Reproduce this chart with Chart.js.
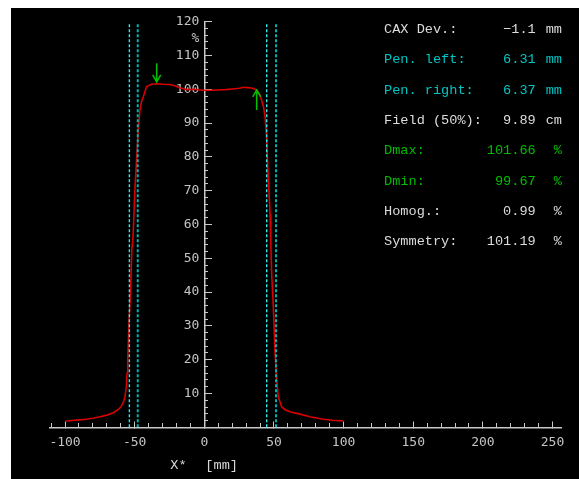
<!DOCTYPE html>
<html>
<head>
<meta charset="utf-8">
<script src="https://cdn.jsdelivr.net/npm/chart.js@4/dist/chart.umd.min.js"></script>
<style>
  html, body { margin: 0; padding: 0; background: #ffffff; width: 579px; height: 479px; overflow: hidden; }
  #panel { position: absolute; left: 11px; top: 8px; width: 568px; height: 471px; background: #000000; }
  canvas { display: block; }
</style>
</head>
<body>
<div id="panel"><canvas id="c" width="568" height="471"></canvas></div>
<script>
// ---- data ----
const profileX = [-100, -95, -90, -85, -80, -75, -70, -65, -62, -60, -58, -57, -56, -55.5, -55, -54.5, -54, -53, -52, -51.4, -51, -50.2, -49.5, -48.5, -47.4, -46.2, -45, -43.8, -42.5, -41.4, -39, -37.8, -34.2, -29.4, -25, -22.3, -19, -17.4, -14, -12.6, -8, -3, 0, 5, 10, 15, 20, 25, 28, 31, 34, 37.6, 40, 42.4, 43.6, 44.8, 45.9, 47.2, 47.7, 48.4, 49.5, 50.8, 52, 53.1, 55.6, 58, 61.5, 68.7, 75.9, 85.4, 92, 99.8];
const profileY = [1.8, 2.0, 2.2, 2.4, 2.7, 3.1, 3.6, 4.4, 5.2, 6.0, 7.5, 9.0, 12, 16, 20, 26, 32, 40, 53, 55, 58, 67, 73, 80, 88, 94, 96.5, 97.8, 99.5, 100.8, 101.3, 101.5, 101.66, 101.5, 101.4, 101.2, 100.7, 100.4, 100.1, 99.9, 100.0, 99.8, 99.7, 99.7, 99.8, 99.9, 100.1, 100.3, 100.6, 100.5, 100.4, 99.8, 98.3, 95, 92, 85, 74, 63, 55, 45, 36, 22, 14, 9, 6, 5.2, 4.6, 3.9, 3.1, 2.4, 2.1, 1.85];

const penumbraX = [-53.8, -47.8, 44.8, 51.5];
const penumbraKind = ['thin', 'thick', 'thin', 'thick'];
const penumbraTop = 119.5;

const arrowX = [-34.2, 37.6];
const arrowFrom = [107.7, 93.9];
const arrowTo = [102.2, 99.8];

const xMajorTicks = [-100, -50, 0, 50, 100, 150, 200, 250];
const xMinorTicks = [-110, -100, -90, -80, -70, -60, -50, -40, -30, -20, -10, 0, 10, 20, 30, 40, 50, 60, 70, 80, 90, 100, 110, 120, 130, 140, 150, 160, 170, 180, 190, 200, 210, 220, 230, 240, 250];
const yMajorTicks = [10, 20, 30, 40, 50, 60, 70, 80, 90, 100, 110, 120];
const yMinorTicks = [2, 4, 6, 8, 10, 12, 14, 16, 18, 20, 22, 24, 26, 28, 30, 32, 34, 36, 38, 40, 42, 44, 46, 48, 50, 52, 54, 56, 58, 60, 62, 64, 66, 68, 70, 72, 74, 76, 78, 80, 82, 84, 86, 88, 90, 92, 94, 96, 98, 100, 102, 104, 106, 108, 110, 112, 114, 116, 118, 120];

const statLabels = ['CAX Dev.:', 'Pen. left:', 'Pen. right:', 'Field (50%):', 'Dmax:', 'Dmin:', 'Homog.:', 'Symmetry:'];
const statValues = ['\u22121.1', '6.31', '6.37', '9.89', '101.66', '99.67', '0.99', '101.19'];
const statUnits = ['mm', 'mm', 'mm', 'cm', '%', '%', '%', '%'];
const statKinds = ['white', 'cyan', 'cyan', 'white', 'green', 'green', 'white', 'white'];

const xTitleParts = ['X*', '[mm]'];
const yUnit = '%';

// ---- styles ----
const AXIS = '#c8c8c8';
const TICKTXT = '#c4c4c4';
const COLORS = { white: '#dcdcdc', cyan: '#00c4c4', green: '#00bb00' };
const TICKFONT = { family: 'DejaVu Sans Mono', size: 13 };
const TEXTFONT = '13.6px "Liberation Mono", "DejaVu Sans Mono", monospace';

const XMIN = -110.8, XMAX = 256.6, YMIN = 0, YMAX = 120;
const Y_LABEL_OFFSET = -3.6;  // y label column sits just left of the y axis (x units)
const X_LABEL_OFFSET = -2.34; // x label row sits just below the x axis (y units)

const datasets = [];
penumbraX.forEach((px, i) => {
  const thin = penumbraKind[i] === 'thin';
  datasets.push({
    data: [{ x: px, y: 0 }, { x: px, y: penumbraTop }],
    borderColor: thin ? '#30e8e8' : '#00b4b4',
    borderWidth: thin ? 1.4 : 2,
    borderDash: [3, 2],
    pointRadius: 0,
    showLine: true,
    fill: false
  });
});
datasets.push({
  data: profileX.map((x, i) => ({ x: x, y: profileY[i] })),
  borderColor: '#d80000',
  borderWidth: 1.6,
  pointRadius: 0,
  showLine: true,
  fill: false,
  tension: 0
});

function setTicks(values) {
  return function (scale) { scale.ticks = values.map(v => ({ value: v })); };
}

const overlay = {
  id: 'overlay',
  afterDraw(chart) {
    const ctx = chart.ctx;
    const xs = chart.scales.x, ys = chart.scales.y;
    ctx.save();
    // arrows
    ctx.strokeStyle = '#00c000';
    ctx.lineWidth = 1.5;
    arrowX.forEach((ax, i) => {
      const px = xs.getPixelForValue(ax);
      const y0 = ys.getPixelForValue(arrowFrom[i]);
      const y1 = ys.getPixelForValue(arrowTo[i]);
      const dir = y1 > y0 ? 1 : -1;
      ctx.beginPath();
      ctx.moveTo(px, y0); ctx.lineTo(px, y1);
      ctx.moveTo(px - 4, y1 - dir * 7); ctx.lineTo(px, y1); ctx.lineTo(px + 4, y1 - dir * 7);
      ctx.stroke();
    });
    // y unit
    const axisX = xs.getPixelForValue(0);
    ctx.fillStyle = TICKTXT;
    ctx.font = '13px "DejaVu Sans Mono"';
    ctx.textAlign = 'center';
    ctx.textBaseline = 'middle';
    ctx.fillText(yUnit, axisX - 9, ys.getPixelForValue(120) + 17);
    // x title
    ctx.font = TEXTFONT;
    ctx.fillStyle = '#d8d8d8';
    ctx.textAlign = 'left';
    const baseY = ys.getPixelForValue(0) + 38;
    ctx.fillText(xTitleParts[0], axisX - 34, baseY);
    ctx.fillText(xTitleParts[1], axisX + 1, baseY);
    // stats panel
    const labelX = 373, valueRight = 524.7, unitRight = 551;
    statLabels.forEach((lab, i) => {
      const y = 21.3 + i * 30.33;
      ctx.fillStyle = COLORS[statKinds[i]];
      ctx.textAlign = 'left';
      ctx.fillText(lab, labelX, y);
      ctx.textAlign = 'right';
      ctx.fillText(statValues[i], valueRight, y);
      ctx.fillText(statUnits[i], unitRight, y);
    });
    ctx.restore();
  }
};

new Chart(document.getElementById('c'), {
  type: 'scatter',
  data: { datasets },
  options: {
    responsive: false,
    devicePixelRatio: 1,
    animation: false,
    events: [],
    layout: { padding: { left: 39, right: 17.3, top: 13.7, bottom: 51.7 } },
    plugins: { legend: { display: false }, tooltip: { enabled: false }, title: { display: false } },
    scales: {
      x: {
        type: 'linear', min: XMIN, max: XMAX, position: { y: X_LABEL_OFFSET },
        afterBuildTicks: setTicks(xMajorTicks),
        grid: { drawOnChartArea: false, drawTicks: false },
        border: { display: false },
        ticks: { color: TICKTXT, font: TICKFONT, padding: 0, maxRotation: 0, autoSkip: false }
      },
      xMajor: {
        type: 'linear', axis: 'x', min: XMIN, max: XMAX, position: { y: 0 },
        afterBuildTicks: setTicks(xMajorTicks),
        grid: { drawOnChartArea: false, drawTicks: true, tickLength: -7, tickColor: AXIS, tickWidth: 1 },
        border: { display: true, color: AXIS, width: 1.5 },
        ticks: { display: false, autoSkip: false }
      },
      x2: {
        type: 'linear', axis: 'x', min: XMIN, max: XMAX, position: { y: 0 },
        afterBuildTicks: setTicks(xMinorTicks),
        grid: { drawOnChartArea: false, drawTicks: true, tickLength: -4, tickColor: AXIS, tickWidth: 1 },
        border: { display: false },
        ticks: { display: false, autoSkip: false }
      },
      y: {
        type: 'linear', min: YMIN, max: YMAX, position: { x: Y_LABEL_OFFSET },
        afterBuildTicks: setTicks(yMajorTicks),
        grid: { drawOnChartArea: false, drawTicks: false },
        border: { display: false },
        ticks: { color: TICKTXT, font: TICKFONT, padding: 0, autoSkip: false }
      },
      yMajor: {
        type: 'linear', axis: 'y', min: YMIN, max: YMAX, position: { x: 0 },
        afterBuildTicks: setTicks(yMajorTicks),
        grid: { drawOnChartArea: false, drawTicks: true, tickLength: -8, tickColor: AXIS, tickWidth: 1 },
        border: { display: true, color: AXIS, width: 1.5 },
        ticks: { display: false, autoSkip: false }
      },
      y2: {
        type: 'linear', axis: 'y', min: YMIN, max: YMAX, position: { x: 0 },
        afterBuildTicks: setTicks(yMinorTicks),
        grid: { drawOnChartArea: false, drawTicks: true, tickLength: -4, tickColor: AXIS, tickWidth: 1 },
        border: { display: false },
        ticks: { display: false, autoSkip: false }
      }
    }
  },
  plugins: [overlay]
});
</script>
</body>
</html>
